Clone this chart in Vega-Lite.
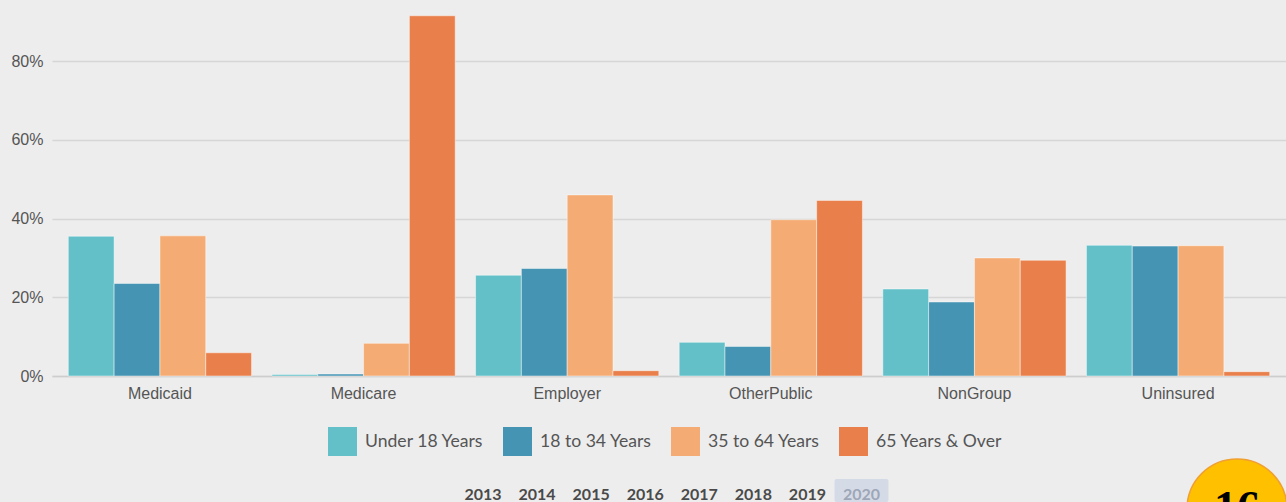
{
  "$schema": "https://vega.github.io/schema/vega-lite/v6.json",
  "background": "#ededed",
  "padding": {"left": 10, "top": 2, "right": 0, "bottom": 0},
  "spacing": 55,
  "config": {
    "view": {"stroke": null},
    "font": "Liberation Sans"
  },
  "vconcat": [
    {
      "width": 1234,
      "height": 374,
      "data": {
        "values": [
          {"category": "Medicaid", "group": "Under 18 Years", "value": 0.355},
          {"category": "Medicaid", "group": "18 to 34 Years", "value": 0.235},
          {"category": "Medicaid", "group": "35 to 64 Years", "value": 0.356},
          {"category": "Medicaid", "group": "65 Years & Over", "value": 0.059},
          {"category": "Medicare", "group": "Under 18 Years", "value": 0.004},
          {"category": "Medicare", "group": "18 to 34 Years", "value": 0.005},
          {"category": "Medicare", "group": "35 to 64 Years", "value": 0.083},
          {"category": "Medicare", "group": "65 Years & Over", "value": 0.915},
          {"category": "Employer", "group": "Under 18 Years", "value": 0.256},
          {"category": "Employer", "group": "18 to 34 Years", "value": 0.273},
          {"category": "Employer", "group": "35 to 64 Years", "value": 0.46},
          {"category": "Employer", "group": "65 Years & Over", "value": 0.0135},
          {"category": "OtherPublic", "group": "Under 18 Years", "value": 0.0855},
          {"category": "OtherPublic", "group": "18 to 34 Years", "value": 0.075},
          {"category": "OtherPublic", "group": "35 to 64 Years", "value": 0.397},
          {"category": "OtherPublic", "group": "65 Years & Over", "value": 0.446},
          {"category": "NonGroup", "group": "Under 18 Years", "value": 0.221},
          {"category": "NonGroup", "group": "18 to 34 Years", "value": 0.188},
          {"category": "NonGroup", "group": "35 to 64 Years", "value": 0.3},
          {"category": "NonGroup", "group": "65 Years & Over", "value": 0.294},
          {"category": "Uninsured", "group": "Under 18 Years", "value": 0.332},
          {"category": "Uninsured", "group": "18 to 34 Years", "value": 0.33},
          {"category": "Uninsured", "group": "35 to 64 Years", "value": 0.331},
          {"category": "Uninsured", "group": "65 Years & Over", "value": 0.011}
        ]
      },
      "mark": {"type": "bar", "stroke": "#ffffff", "strokeOpacity": 0.45, "strokeWidth": 1},
      "encoding": {
        "x": {
          "field": "category",
          "type": "nominal",
          "sort": ["Medicaid", "Medicare", "Employer", "OtherPublic", "NonGroup", "Uninsured"],
          "scale": {"paddingInner": 0.1, "paddingOuter": 0.08},
          "axis": {
            "title": null,
            "labelAngle": 0,
            "ticks": false,
            "domain": true,
            "domainColor": "#cdcdcd",
            "domainWidth": 1.5,
            "labelFontSize": 16,
            "labelColor": "#555555",
            "labelPadding": 9
          }
        },
        "xOffset": {
          "field": "group",
          "type": "nominal",
          "sort": ["Under 18 Years", "18 to 34 Years", "35 to 64 Years", "65 Years & Over"]
        },
        "y": {
          "field": "value",
          "type": "quantitative",
          "scale": {"domain": [0, 0.95], "nice": false},
          "axis": {
            "title": null,
            "values": [0, 0.2, 0.4, 0.6, 0.8],
            "format": ".0%",
            "domain": false,
            "ticks": false,
            "labelPadding": 9,
            "labelFontSize": 16,
            "labelColor": "#555555",
            "gridColor": "#d6d6d6",
            "gridWidth": 1.5
          }
        },
        "color": {
          "field": "group",
          "type": "nominal",
          "scale": {
            "domain": ["Under 18 Years", "18 to 34 Years", "35 to 64 Years", "65 Years & Over"],
            "range": ["#63c0c8", "#4594b4", "#f5ac74", "#e9804c"]
          },
          "legend": {
            "title": null,
            "orient": "none",
            "direction": "horizontal",
            "legendX": 276,
            "legendY": 425,
            "symbolType": "square",
            "symbolSize": 841,
            "symbolStrokeWidth": 0,
            "symbolOpacity": 1,
            "labelFont": "Lato",
            "labelFontSize": 17.6,
            "labelColor": "#555555",
            "labelOffset": 8,
            "columnPadding": 19
          }
        }
      }
    },
    {
      "width": 1234,
      "height": 23,
      "data": {
        "values": [
          {"year": 2013}, {"year": 2014}, {"year": 2015}, {"year": 2016},
          {"year": 2017}, {"year": 2018}, {"year": 2019}, {"year": 2020}
        ]
      },
      "encoding": {
        "x": {
          "field": "year",
          "type": "quantitative",
          "scale": {"domain": [2005.03, 2027.85], "nice": false, "zero": false},
          "axis": null
        }
      },
      "layer": [
        {
          "transform": [{"filter": "datum.year == 2020"}],
          "mark": {"type": "tick", "orient": "vertical", "color": "#d5dbe6", "thickness": 54, "size": 23, "opacity": 1, "cornerRadius": 2}
        },
        {
          "mark": {"type": "text", "font": "Lato", "fontSize": 16, "fontWeight": "bold", "baseline": "alphabetic", "dy": 9.5},
          "encoding": {
            "text": {"field": "year", "type": "quantitative", "format": "d"},
            "color": {
              "condition": {"test": "datum.year == 2020", "value": "#9ea6b8"},
              "value": "#4a4a4a"
            }
          }
        },
        {
          "data": {"values": [{"label": "16"}]},
          "mark": {"type": "point", "filled": true, "shape": "circle", "size": 10000, "color": "#ffc000", "stroke": "#f0a030", "strokeWidth": 1.5, "opacity": 1, "xOffset": -49, "yOffset": 7},
          "encoding": {"x": {"value": "width"}, "y": {"value": "height"}}
        },
        {
          "data": {"values": [{"label": "16"}]},
          "mark": {"type": "text", "font": "Liberation Serif", "fontWeight": "bold", "fontSize": 46, "color": "#000000", "baseline": "middle", "xOffset": -49, "yOffset": 7},
          "encoding": {"text": {"field": "label"}, "x": {"value": "width"}, "y": {"value": "height"}}
        }
      ]
    }
  ]
}
